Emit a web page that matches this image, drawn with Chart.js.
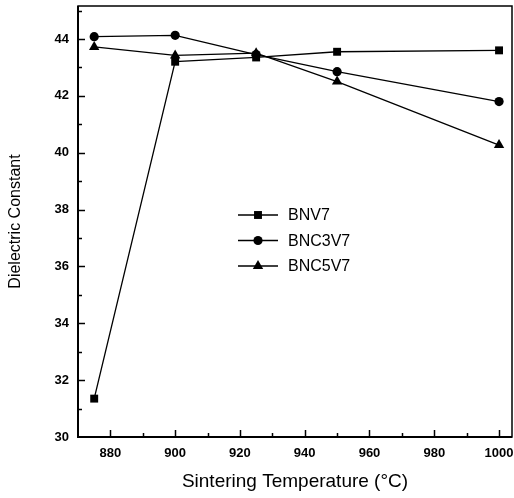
<!DOCTYPE html>
<html>
<head>
<meta charset="utf-8">
<script src="https://cdn.jsdelivr.net/npm/chart.js@4.4.1/dist/chart.umd.min.js"></script>
<style>
  body { margin: 0; background: #fff; }
  canvas { display: block; }
</style>
</head>
<body>
<canvas id="chart" width="514" height="498"></canvas>
<script>
// Sintering temperatures (x) and dielectric constant for each composition
const temperatures = [875, 900, 925, 950, 1000];
const bnv7 = [31.35, 43.2, 43.35, 43.55, 43.6];
const bnc3v7 = [44.08, 44.13, 43.45, 42.85, 41.8];
const bnc5v7 = [43.72, 43.42, 43.5, 42.5, 40.27];
const seriesLabels = ['BNV7', 'BNC3V7', 'BNC5V7'];
const xTickValues = [880, 900, 920, 940, 960, 980, 1000];
const yTickValues = [30, 32, 34, 36, 38, 40, 42, 44];

const FONT = '"Liberation Sans", Arial, Helvetica, sans-serif';

// turn two arrays into {x, y} points
function toPoints(values) {
    return temperatures.map((t, i) => ({ x: t, y: values[i] }));
}

// Draws the box frame, inward ticks and the legend inside the plot
const framePlugin = {
    id: 'frame',
    afterDraw(chart) {
        const ctx = chart.ctx;
        const area = chart.chartArea;
        const xs = chart.scales.x;
        const ys = chart.scales.y;
        ctx.save();
        ctx.strokeStyle = '#000';

        // minor + major ticks pointing inward
        ctx.lineWidth = 1.5;
        for (let v = 880; v <= 1000; v += 10) {
            const px = Math.round(xs.getPixelForValue(v)) + 0.5;
            const len = v % 20 === 0 ? 7 : 4;
            ctx.beginPath();
            ctx.moveTo(px, area.bottom);
            ctx.lineTo(px, area.bottom - len);
            ctx.stroke();
        }
        for (let v = 31; v <= 45; v += 1) {
            const py = Math.round(ys.getPixelForValue(v)) + 0.5;
            const len = v % 2 === 0 ? 7 : 4;
            ctx.beginPath();
            ctx.moveTo(area.left, py);
            ctx.lineTo(area.left + len, py);
            ctx.stroke();
        }

        // frame
        ctx.lineWidth = 1.5;
        ctx.strokeRect(area.left, area.top, area.right - area.left, area.bottom - area.top);
        ctx.lineWidth = 2;
        ctx.beginPath();
        ctx.moveTo(area.left, area.top);
        ctx.lineTo(area.left, area.bottom);
        ctx.lineTo(area.right, area.bottom);
        ctx.stroke();

        // legend
        const lx = 238, ly = 215, rowGap = 25.5;
        chart.data.datasets.forEach((ds, i) => {
            const y = ly + i * rowGap;
            ctx.lineWidth = 1.3;
            ctx.beginPath();
            ctx.moveTo(lx, y);
            ctx.lineTo(lx + 40, y);
            ctx.stroke();
            ctx.fillStyle = '#000';
            Chart.helpers.drawPoint(ctx, {
                pointStyle: ds.pointStyle,
                radius: ds.pointRadius,
                rotation: 0,
                borderWidth: 0
            }, lx + 20, y);
            ctx.font = '16px ' + FONT;
            ctx.textBaseline = 'middle';
            ctx.textAlign = 'left';
            ctx.fillText(ds.label, lx + 50, y + 1);
        });
        ctx.restore();
    }
};

const commonLine = {
    borderColor: '#000',
    backgroundColor: '#000',
    borderWidth: 1.3,
    pointBorderWidth: 0,
    tension: 0
};

new Chart(document.getElementById('chart'), {
    type: 'line',
    data: {
        datasets: [
            { ...commonLine, label: seriesLabels[0], data: toPoints(bnv7), pointStyle: 'rect', pointRadius: 5.6 },
            { ...commonLine, label: seriesLabels[1], data: toPoints(bnc3v7), pointStyle: 'circle', pointRadius: 4.6 },
            { ...commonLine, label: seriesLabels[2], data: toPoints(bnc5v7), pointStyle: 'triangle', pointRadius: 6 }
        ]
    },
    options: {
        responsive: false,
        animation: false,
        layout: { autoPadding: false, padding: { top: 6, right: 2, left: 0, bottom: 0 } },
        plugins: {
            legend: { display: false },
            tooltip: { enabled: false }
        },
        scales: {
            x: {
                type: 'linear',
                min: 870,
                max: 1004,
                grid: { display: false, drawTicks: false },
                border: { display: false },
                afterBuildTicks: (scale) => { scale.ticks = xTickValues.map(v => ({ value: v })); },
                afterFit: (scale) => {
                    scale.height = 61;
                    scale.paddingLeft = 0;
                    scale.paddingRight = 0;
                },
                ticks: {
                    padding: 9,
                    color: '#000',
                    font: { family: FONT, size: 13, weight: 'bold' },
                    callback: (v) => String(v)
                },
                title: {
                    display: true,
                    text: 'Sintering Temperature (°C)',
                    color: '#000',
                    font: { family: FONT, size: 19 },
                    padding: { top: 0, bottom: 5 }
                }
            },
            y: {
                type: 'linear',
                min: 30,
                max: 45.16,
                grid: { display: false, drawTicks: false },
                border: { display: false },
                afterBuildTicks: (scale) => { scale.ticks = yTickValues.map(v => ({ value: v })); },
                afterFit: (scale) => {
                    scale.width = 78;
                    scale.paddingTop = 0;
                    scale.paddingBottom = 0;
                },
                ticks: {
                    padding: 9,
                    color: '#000',
                    font: { family: FONT, size: 13, weight: 'bold' }
                },
                title: {
                    display: true,
                    text: 'Dielectric Constant',
                    color: '#000',
                    font: { family: FONT, size: 16 },
                    padding: { top: 6, bottom: 0 }
                }
            }
        }
    },
    plugins: [framePlugin]
});
</script>
</body>
</html>
